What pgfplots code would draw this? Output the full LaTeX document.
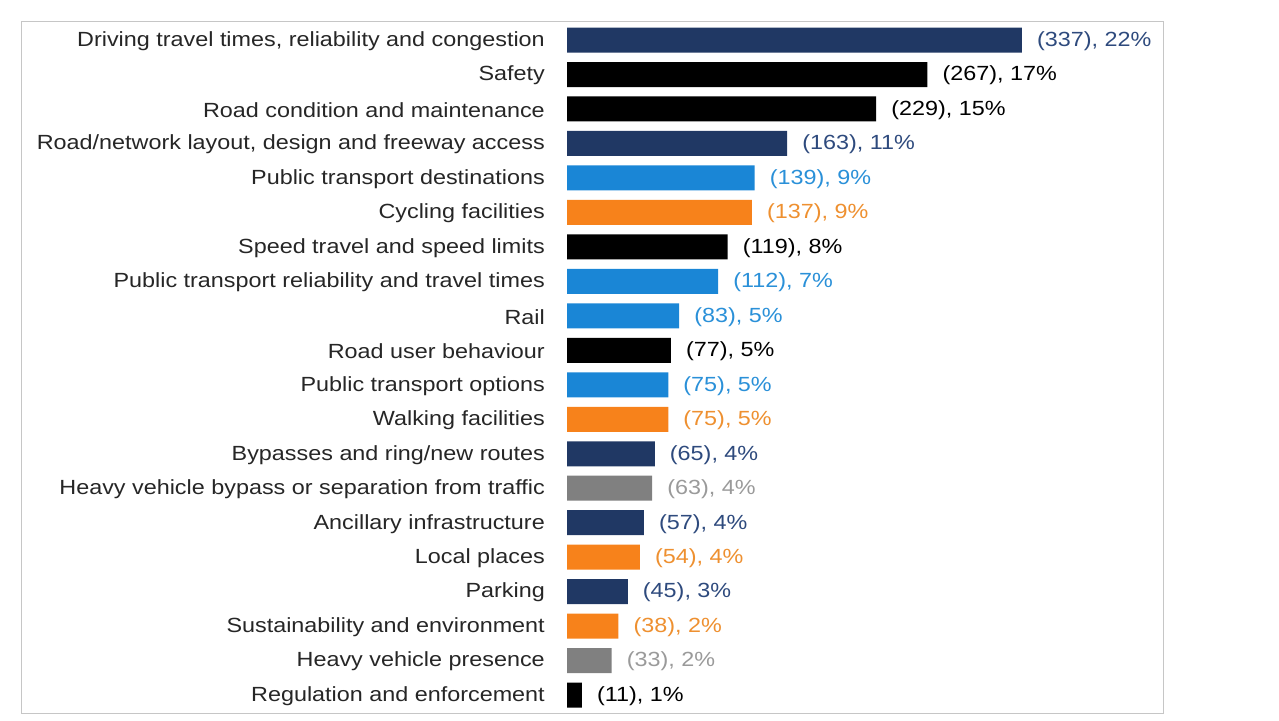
\documentclass[border=0pt]{standalone}
\usepackage{pgfplots}
\pgfplotsset{compat=1.18}
\usepackage{fontspec}
\setmainfont[FakeStretch=1.14]{Liberation Sans}
\definecolor{navy}{HTML}{203864}
\definecolor{blk}{HTML}{000000}
\definecolor{lblue}{HTML}{1A86D6}
\definecolor{orng}{HTML}{F7821B}
\definecolor{gry}{HTML}{808080}
\definecolor{navyt}{HTML}{2E4A7D}
\definecolor{lbluet}{HTML}{2A90D8}
\definecolor{orngt}{HTML}{EE9030}
\definecolor{gryt}{HTML}{9A9A9A}
\definecolor{lab}{HTML}{262626}
\begin{document}
\fontsize{20.5}{23}\selectfont
\begin{tikzpicture}
\path (0,0) rectangle (1279pt,-720pt);
\draw[color=gray!45, line width=1pt] (21.5pt,-21.5pt) rectangle (1163pt,-713pt);
\begin{axis}[
 at={(567pt,-22.8pt)}, anchor=north west,
 scale only axis, width=540pt, height=689.5pt,
 xmin=0, xmax=400, ymin=-0.5, ymax=19.5, y dir=reverse,
 axis line style={draw=none}, xtick=\empty, ytick={0,...,19},
 major tick length=0pt,
 yticklabels={{Driving travel times, reliability and congestion},Safety,Road condition and maintenance,{Road/network layout, design and freeway access},Public transport destinations,Cycling facilities,Speed travel and speed limits,Public transport reliability and travel times,Rail,Road user behaviour,Public transport options,Walking facilities,Bypasses and ring/new routes,Heavy vehicle bypass or separation from traffic,Ancillary infrastructure,Local places,Parking,Sustainability and environment,Heavy vehicle presence,Regulation and enforcement},
 yticklabel style={font=\fontsize{20.5}{23}\selectfont, text=lab, inner sep=0pt, xshift=-22pt, yshift=-1pt},
 xbar, bar width=25pt, bar shift=0pt,
 nodes near coords={(\val), \pct\%},
 nodes near coords align={horizontal},
 every node near coord/.append style={font=\fontsize{20.5}{23}\selectfont, inner sep=0pt, xshift=15pt, yshift=-1pt},
 visualization depends on={value \thisrow{v} \as \val},
 visualization depends on={value \thisrow{p} \as \pct},
 clip=false,
]
\addplot[fill=navy, draw=none, every node near coord/.append style={text=navyt}] table[x=v,y=y] {
v y p
337 0 22
163 3 11
65 12 4
57 14 4
45 16 3
};
\addplot[fill=blk, draw=none, every node near coord/.append style={text=black}] table[x=v,y=y] {
v y p
267 1 17
229 2 15
119 6 8
77 9 5
11 19 1
};
\addplot[fill=lblue, draw=none, every node near coord/.append style={text=lbluet}] table[x=v,y=y] {
v y p
139 4 9
112 7 7
83 8 5
75 10 5
};
\addplot[fill=orng, draw=none, every node near coord/.append style={text=orngt}] table[x=v,y=y] {
v y p
137 5 9
75 11 5
54 15 4
38 17 2
};
\addplot[fill=gry, draw=none, every node near coord/.append style={text=gryt}] table[x=v,y=y] {
v y p
63 13 4
33 18 2
};
\end{axis}
\end{tikzpicture}
\end{document}
